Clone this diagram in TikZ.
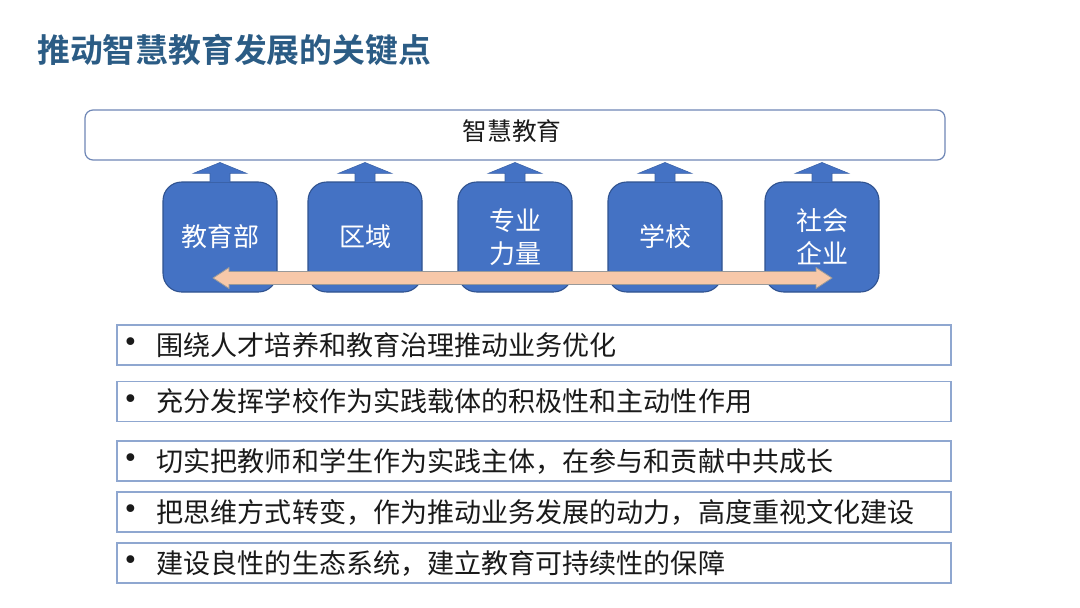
\documentclass[tikz,border=0pt]{standalone}
\usepackage{fontspec}
\usetikzlibrary{calc}
\setmainfont{Noto Sans CJK SC}
\newfontfamily\cjkbold[BoldFont={Noto Sans CJK SC Bold}]{Noto Sans CJK SC}
\newfontfamily\dejavu{DejaVu Sans}
\definecolor{titleblue}{HTML}{2B5C85}
\definecolor{boxblue}{HTML}{4472C4}
\definecolor{boxedge}{HTML}{2F528F}
\definecolor{topedge}{HTML}{6F87B6}
\definecolor{listedge}{HTML}{8FA7D0}
\definecolor{peach}{HTML}{F7C8A9}
\definecolor{txt}{HTML}{1A1A1A}
\begin{document}
\begin{tikzpicture}[x=0.75pt,y=-0.75pt,
  actor/.style={draw=boxedge,line width=0.8pt,fill=boxblue,rounded corners=14pt,
    minimum width=114*0.75pt,minimum height=110*0.75pt,text=white,
    font=\fontsize{19.5pt}{24.5pt}\selectfont,align=center,inner sep=0pt},
  uparrow/.style={fill=boxblue,draw=boxblue!85!black,line width=0.4pt},
  listbox/.style={draw=listedge,line width=0.9pt,fill=white,
    minimum width=834*0.75pt,minimum height=40*0.75pt,inner sep=0pt},
  listtext/.style={anchor=west,text=txt,font=\fontsize{20.3pt}{22pt}\selectfont,inner sep=0pt},
  bullet/.style={text=txt,font=\dejavu\fontsize{20pt}{20pt}\selectfont,inner sep=0pt}]
\useasboundingbox (0,0) rectangle (1080,607);
\fill[white] (0,0) rectangle (1080,607);
% title
\node[anchor=west,inner sep=0pt,text=titleblue,font=\cjkbold\bfseries\fontsize{24.6pt}{28pt}\selectfont] (title) at (37,50) {推动智慧教育发展的关键点};
% top box
\node[draw=topedge,line width=0.9pt,rounded corners=6pt,fill=white,minimum width=860*0.75pt,minimum height=50*0.75pt,inner sep=0pt] (top) at (515,135) {};
\node[inner sep=0pt,font=\fontsize{18.5pt}{22pt}\selectfont,text=txt] (toptext) at (512,131) {智慧教育};
% actors
\node[actor] (b1) at (220,237) {教育部};
\node[actor] (b2) at (365,237) {区域};
\node[actor] (b3) at (515,237) {专业\\力量};
\node[actor] (b4) at (665,237) {学校};
\node[actor] (b5) at (822,237) {社会\\企业};
% up arrows
\foreach \b in {b1,b2,b3,b4,b5}{
  \draw[uparrow] (\b.north) ++(-10,1) -- ++(0,-9) -- ++(-17,0) -- ++(27,-11) -- ++(27,11) -- ++(-17,0) -- ++(0,9) -- cycle;
}
% double arrow
\coordinate (L) at (213,278);
\coordinate (R) at (832,278);
\draw[fill=peach,draw=gray!80,line width=0.6pt]
  (L) -- ($(L)+(16,-10.5)$) -- ($(L)+(16,-6.5)$) -- ($(R)+(-16,-6.5)$) -- ($(R)+(-16,-10.5)$) -- (R)
  -- ($(R)+(-16,10.5)$) -- ($(R)+(-16,6.5)$) -- ($(L)+(16,6.5)$) -- ($(L)+(16,10.5)$) -- cycle;
% list
\node[listbox] (l1) at (534,345) {};
\node[listbox] (l2) at (534,401.5) {};
\node[listbox] (l3) at (534,461) {};
\node[listbox] (l4) at (534,512) {};
\node[listbox] (l5) at (534,563) {};
\foreach \l/\t in {l1/围绕人才培养和教育治理推动业务优化,
  l2/充分发挥学校作为实践载体的积极性和主动性作用,
  l3/{切实把教师和学生作为实践主体，在参与和贡献中共成长},
  l4/{把思维方式转变，作为推动业务发展的动力，高度重视文化建设},
  l5/{建设良性的生态系统，建立教育可持续性的保障}}{
  \node[bullet] (\l b) at ([xshift=14*0.75pt]\l.west) {•};
  \node[listtext] (\l t) at ([xshift=40*0.75pt]\l.west) {\t};
}
\end{tikzpicture}
\end{document}
